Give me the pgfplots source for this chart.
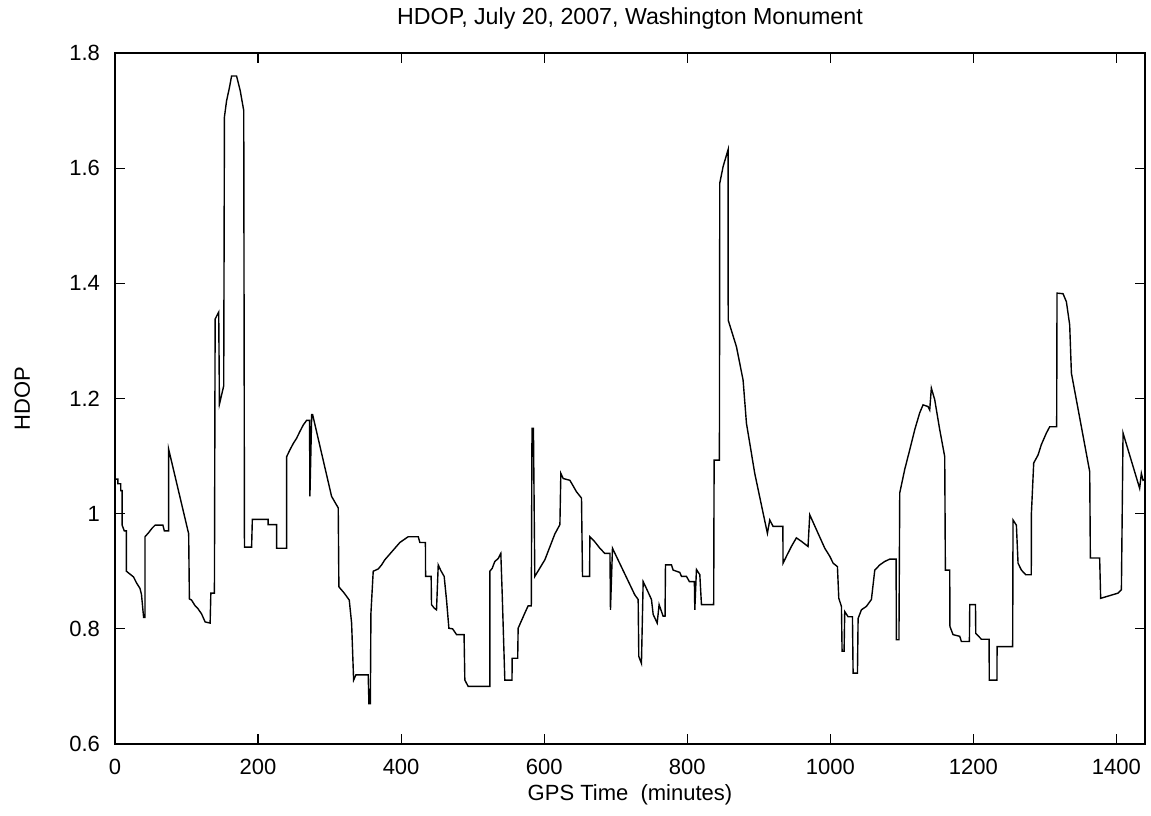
\documentclass[border=0pt]{standalone}
\usepackage{pgfplots}
\pgfplotsset{compat=1.18}
\usepackage{fontspec}
\setmainfont{Liberation Sans}
\usetikzlibrary{calc}
\begin{document}
\begin{tikzpicture}
\begin{axis}[name=ax, scale only axis, width=515pt, height=345.5pt,
  xmin=0, xmax=1440, ymin=0.6, ymax=1.8,
  xtick={0,200,400,600,800,1000,1200,1400},
  ytick={0.6,0.8,1.0,1.2,1.4,1.6,1.8},
  yticklabels={0.6,0.8,1,1.2,1.4,1.6,1.8},
  tick align=inside, major tick length=5pt, tick pos=both,
  font=\fontsize{11}{13}\selectfont,
  /pgf/number format/assume math mode=true,
  /pgf/number format/1000 sep={},
  axis line style={line width=0.8pt},
  every tick/.style={black, line width=0.6pt},
  title={HDOP, July 20, 2007, Washington Monument},
  title style={at={(axis description cs:0.5,1.033)}, anchor=center, font=\fontsize{11.6}{14}\selectfont},
  xlabel={GPS Time\ \ (minutes)},
  xlabel style={at={(axis description cs:0.5,-0.0738)}, anchor=center},
  ylabel={HDOP},
  ylabel style={at={(axis description cs:-0.0900,0.5)}, anchor=center},
  xticklabel style={yshift=-4pt},
  yticklabel style={xshift=-4pt},
]
\addplot[black, line width=0.7pt, sharp plot, mark=none] coordinates {
(0,1.06) (4,1.06) (4,1.052) (8,1.052) (8,1.04) (10,1.04) (10,0.98) (13,0.97) (16,0.97) (16,0.90)
(21,0.895) (26,0.89) (30,0.88) (35,0.87) (37,0.86) (40,0.82) (42,0.82) (42,0.96) (47,0.967)
(52,0.975) (56,0.98) (67,0.98) (69,0.97) (75,0.97) (75,1.112) (103,0.965) (104,0.852) (107,0.85)
(112,0.84) (116,0.835) (121,0.826) (126,0.812) (133,0.81) (134,0.862) (139,0.862) (140,1.338)
(145,1.35) (146,1.19) (152,1.222) (153,1.689) (156,1.717) (160,1.74) (163,1.76) (170,1.76)
(175,1.735) (180,1.70) (181,0.942) (191,0.942) (192,0.99) (214,0.99) (214,0.981) (226,0.981)
(226,0.94) (240,0.94) (240,1.099) (244.6,1.111) (249.3,1.122) (253.9,1.131) (258.6,1.143)
(263.2,1.154) (267.9,1.162) (272,1.162) (272.5,1.03) (275,1.172) (276.3,1.172) (302.8,1.03)
(312.1,1.01) (313,0.873) (320.5,0.862) (327.5,0.85) (330.8,0.81) (333.6,0.711) (336.8,0.72)
(354,0.72) (355,0.67) (357,0.67) (357.8,0.827) (361,0.90) (368,0.904) (372.7,0.911) (377.3,0.92)
(384.3,0.93) (391.3,0.94) (398.3,0.95) (409.9,0.96) (424,0.96) (426.2,0.95) (434,0.95)
(434.2,0.891) (442,0.891) (442.5,0.842) (446.3,0.836) (449.5,0.833) (451.9,0.911) (455.6,0.901)
(460.2,0.891) (463.5,0.85) (466.8,0.801) (472,0.80) (477.5,0.79) (488,0.79) (489.1,0.711)
(493.8,0.70) (524,0.70) (524,0.90) (527.3,0.905) (531,0.917) (535.7,0.922) (539.4,0.931)
(541.3,0.862) (545,0.711) (555,0.711) (555.3,0.749) (563,0.749) (563.6,0.801) (573.9,0.83)
(577.6,0.84) (582,0.84) (583,1.148) (585,1.148) (586.9,0.891) (601,0.92) (615,0.965) (622,0.981)
(623.3,1.07) (626.6,1.061) (635.9,1.058) (640.6,1.048) (645.2,1.038) (652.2,1.027) (653.6,0.891)
(663.5,0.891) (663.9,0.96) (670.9,0.951) (677.8,0.94) (684.8,0.931) (692,0.931) (692.7,0.833)
(695.5,0.94) (726.7,0.859) (731.4,0.851) (732.3,0.752) (736,0.74) (738.4,0.882) (743,0.87)
(750,0.851) (752.4,0.825) (758,0.81) (760.7,0.842) (766.3,0.822) (769,0.822) (769.6,0.911)
(778,0.911) (780.3,0.902) (789.6,0.898) (792,0.891) (799,0.891) (803,0.882) (810,0.882)
(810.6,0.833) (812.9,0.903) (817.6,0.894) (819.9,0.842) (837,0.842) (837.6,1.093) (845,1.093)
(845.5,1.574) (850.2,1.603) (857.1,1.632) (857.3,1.336) (868.8,1.29) (878.1,1.232) (882.8,1.157)
(894.4,1.07) (906.1,1.001) (912.1,0.966) (915.4,0.989) (920,0.978) (933.7,0.978) (934,0.914)
(938.7,0.926) (945.6,0.943) (952.6,0.958) (959.6,0.952) (968.9,0.943) (971.3,0.998) (992.3,0.94)
(999.3,0.926) (1004,0.914) (1010,0.908) (1011.9,0.853) (1015.6,0.839) (1016.5,0.761)
(1019.3,0.761) (1020.2,0.83) (1024.9,0.821) (1031,0.821) (1031.9,0.723) (1038,0.723)
(1038.9,0.818) (1043.5,0.833) (1050.5,0.839) (1057.5,0.851) (1062.2,0.902) (1069.2,0.911)
(1076.1,0.917) (1083.1,0.921) (1092,0.921) (1092.4,0.781) (1096,0.781) (1097.1,1.036)
(1104.1,1.077) (1111.1,1.111) (1118.1,1.146) (1125,1.175) (1129.7,1.189) (1136.7,1.186)
(1139,1.18) (1141.3,1.218) (1146,1.198) (1153,1.146) (1160,1.099) (1160.9,0.902) (1167,0.902)
(1167.3,0.804) (1171.6,0.79) (1181,0.787) (1183.3,0.778) (1194.5,0.778) (1195,0.842) (1203,0.842)
(1203.4,0.792) (1211.3,0.782) (1222,0.782) (1222.3,0.711) (1233,0.711) (1233.2,0.769)
(1255,0.769) (1255.5,0.989) (1260.2,0.98) (1262.5,0.914) (1267.2,0.902) (1273.2,0.894)
(1281,0.894) (1281.2,1.001) (1284.4,1.088) (1290.5,1.102) (1295.1,1.12) (1302.1,1.14)
(1306.8,1.151) (1316.5,1.151) (1317,1.383) (1325.4,1.382) (1330.1,1.368) (1334.7,1.328)
(1337.1,1.244) (1362.7,1.073) (1363.6,0.923) (1376.6,0.923) (1378,0.853) (1402.3,0.862)
(1407,0.868) (1409.3,1.14) (1432.5,1.044) (1434.9,1.07) (1437.2,1.058) (1440,1.06)
};
\end{axis}
\pgfresetboundingbox
\useasboundingbox ($(ax.south west)+(-57.5pt,-35.5pt)$) rectangle ($(ax.north east)+(3pt,26.5pt)$);
\end{tikzpicture}
\end{document}
